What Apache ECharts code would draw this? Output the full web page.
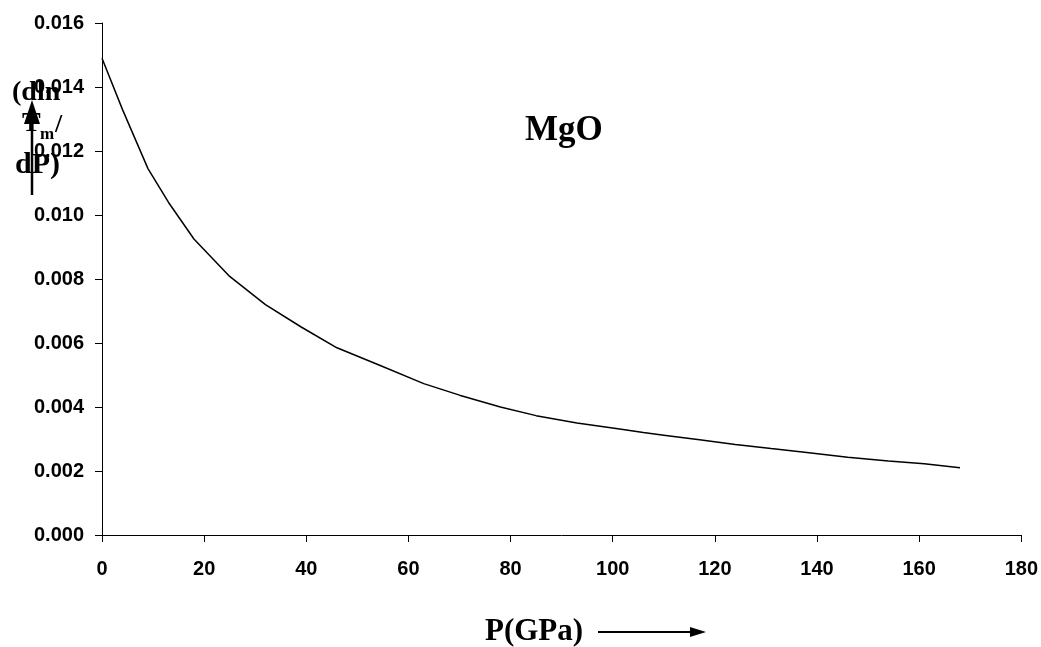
<!DOCTYPE html>
<html>
<head>
<meta charset="utf-8">
<script src="https://cdn.jsdelivr.net/npm/echarts@6/dist/echarts.min.js"></script>
<style>
  html, body { margin: 0; padding: 0; background: #fff; }
  #chart { width: 1041px; height: 647px; }
</style>
</head>
<body>
<div id="chart"></div>
<script>
// pressure (GPa) and d(ln Tm)/dP
var pressure = [0, 4, 9, 13, 18, 25, 32, 39, 46, 54, 63, 70, 78, 85, 93, 101, 106, 110, 117, 124, 131, 138, 146, 154, 161, 168];
var slope = [0.01490, 0.01330, 0.01145, 0.01040, 0.00925, 0.00808, 0.00720, 0.00650, 0.00585, 0.00533,
             0.00473, 0.00437, 0.00400, 0.00373, 0.00350, 0.00332, 0.00320, 0.00312, 0.00298, 0.00283,
             0.00270, 0.00258, 0.00243, 0.00231, 0.00223, 0.00210];
var xTicks = { min: 0, max: 180, step: 20 };
var yTicks = { min: 0, max: 0.016, step: 0.002 };

var SANS = '"Liberation Sans", Arial, sans-serif';
var SERIF = '"Liberation Serif", "Times New Roman", serif';

var chart = echarts.init(document.getElementById('chart'));

var points = pressure.map(function(p, i) { return [p, slope[i]]; });

function serifText(x, y, str, size) {
  return {
    type: 'text', left: x, top: y, z: 10,
    style: { text: str, font: 'bold ' + size + 'px ' + SERIF, fill: '#000' }
  };
}

chart.setOption({
  animation: false,
  backgroundColor: '#fff',
  grid: { left: 102, right: 19, top: 23, bottom: 112, containLabel: false },
  xAxis: {
    type: 'value',
    min: xTicks.min, max: xTicks.max, interval: xTicks.step,
    axisLine: { lineStyle: { color: '#000', width: 1 } },
    axisTick: { show: true, inside: false, length: 7, lineStyle: { color: '#000' } },
    axisLabel: { margin: 24, color: '#000', fontSize: 20, fontWeight: 'bold', fontFamily: SANS },
    splitLine: { show: false }
  },
  yAxis: {
    type: 'value',
    min: yTicks.min, max: yTicks.max, interval: yTicks.step,
    axisLine: { show: true, lineStyle: { color: '#000', width: 1 } },
    axisTick: { show: true, inside: false, length: 7, lineStyle: { color: '#000' } },
    axisLabel: {
      margin: 18, color: '#000', fontSize: 20, fontWeight: 'bold', fontFamily: SANS,
      formatter: function(v) { return v.toFixed(3); }
    },
    splitLine: { show: false }
  },
  series: [{
    type: 'line',
    data: points,
    showSymbol: false,
    smooth: false,
    lineStyle: { color: '#000', width: 1.5 }
  }],
  graphic: [
    // chart label
    serifText(525, 113, 'MgO', 35),
    // x axis title + arrow
    serifText(485, 616, 'P(GPa)', 31),
    { type: 'line', shape: { x1: 598, y1: 632, x2: 692, y2: 632 }, style: { stroke: '#000', lineWidth: 2 } },
    { type: 'polygon', shape: { points: [[690, 627], [706, 632], [690, 637]] }, style: { fill: '#000' } },
    // y axis title pieces, stacked as in the original
    serifText(12, 79, '(dln', 28),
    serifText(22, 110, 'T', 28),
    serifText(40, 126, 'm', 17),
    serifText(55, 112, '/', 26),
    serifText(15, 150, 'dP)', 30),
    { type: 'line', shape: { x1: 32, y1: 195, x2: 32, y2: 118 }, style: { stroke: '#000', lineWidth: 2.5 } },
    { type: 'polygon', shape: { points: [[24, 124], [32, 100], [40, 124]] }, style: { fill: '#000' } }
  ]
});
</script>
</body>
</html>
